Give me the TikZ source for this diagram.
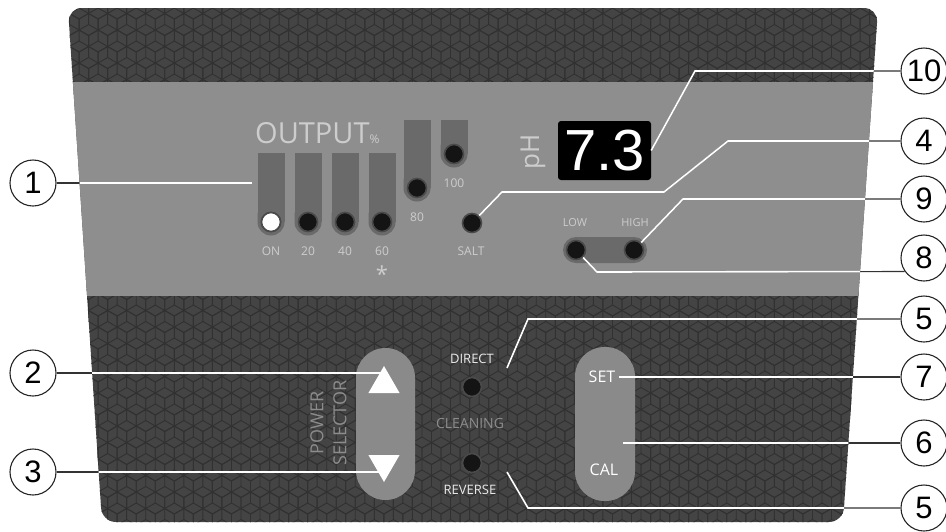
\documentclass[tikz,border=0pt]{standalone}
\usepackage{fontspec}
\setmainfont{Open Sans}
\newfontfamily\numfont{Liberation Sans}
\usetikzlibrary{shapes.geometric}
\definecolor{panelgray}{HTML}{444444}
\definecolor{hexgray}{HTML}{313131}
\definecolor{bandgray}{HTML}{8E8E8E}
\definecolor{bargray}{HTML}{6A6A6A}
\definecolor{pillgray}{HTML}{8A8A8A}
\definecolor{lbltext}{HTML}{CDCDCD}
\definecolor{dimtext}{HTML}{8C8C8C}
\definecolor{ledrim}{HTML}{4A4A4A}
\newcommand\calloutlines[1]{
\draw[#1] (c1) -- (p1);
\draw[#1] (c2) -- (c2 -| up);
\draw[#1] (c3) -- (c3 -| down);
\draw[#1] (c10) -- (695,71) -- (disp.east);
\draw[#1] (c4) -- (728,141) -- (664,192) -- (502,192) -- (salt);
\draw[#1] (c9) -- (683,199) -- (high);
\draw[#1] (low) -- (597,272) -- (c8.215);
\draw[#1] (c5a) -- (528,319) -- (p5a);
\draw[#1] (c5b) -- (528,508) -- (p5b);
\draw[#1] (c7) -- (set);
\draw[#1] (c6) -- (p6);
}
\begin{document}
\begin{tikzpicture}[x=1pt,y=-1pt,
  hexl/.style={draw=hexgray, line width=0.9pt},
  bar/.style={fill=bargray},
  pill/.style={fill=pillgray, rounded corners=29.5},
  led/.style={circle, fill=black!92, draw=ledrim, line width=1.6pt, minimum size=19, inner sep=0},
  lbl/.style={text=lbltext, font=\fontsize{12}{12}\selectfont},
  ctext/.style={text=white!92!black, font=\fontsize{13}{13}\selectfont},
  btn/.style={text=white, font=\fontsize{16}{16}\selectfont},
  tri/.style={regular polygon, regular polygon sides=3, fill=white, minimum size=36, inner sep=0},
  callout/.style={circle, draw=black!85, line width=1.1pt, fill=white, minimum size=46, inner sep=0, font=\numfont\fontsize{31}{31}\selectfont},
  leaderout/.style={draw=black!80, line width=1.1pt},
  leaderin/.style={draw=white, line width=1.6pt}]
\useasboundingbox (0,0) rectangle (946,531);
\fill[white] (0,0) rectangle (946,531);
\begin{scope}
\clip[rounded corners=14] (68,8) -- (878,8) -- (843,522) -- (102,522) -- cycle;
\fill[panelgray] (60,0) rectangle (890,531);
\foreach \j in {0,...,5,17,18,...,32}{
  \foreach \i in {0,...,45}{
    \draw[hexl] ({60+\i*19.05+mod(\j,2)*9.53},{8+\j*16.5}) +(30:11) -- +(90:11) -- +(150:11) -- +(210:11) -- +(270:11) -- +(330:11) -- cycle
      +(0,0) -- +(90:11) +(0,0) -- +(210:11) +(0,0) -- +(330:11);
  }
}
\fill[bandgray] (60,82) rectangle (890,296);
\end{scope}

\node[anchor=base west, inner sep=0, text=lbltext, font=\fontsize{29}{29}\selectfont] (out) at (255,143) {OUTPUT{\fontsize{12}{12}\selectfont\%}};
\foreach \n/\cx/\ty/\ly/\lbl in {a/271/153/222/ON, b/308/153/222/20, c/345/153/222/40, d/382/153/222/60, e/417/120/188/80, f/454/120/154/100}{
  \fill[bar] (\cx-13.5,\ty) rectangle (\cx+13.5,\ly);
  \fill[bar, rounded corners=13.5] (\cx-13.5,\ly-20) rectangle (\cx+13.5,\ly+13.5);
  \node[led] (led\n) at (\cx,\ly) {};
  \node[lbl] at (\cx,\ly+29) {\lbl};
}
\node[led, fill=white] at (leda) {};
\node[lbl, font=\fontsize{22}{22}\selectfont] at (382,274) {*};
\node[led] (salt) at (472,223) {};
\node[lbl] at (471,251) {SALT};

\node[rotate=90, text=lbltext, font=\fontsize{26}{26}\selectfont] at (533,152) {pH};
\node[fill=black, rounded corners=3, minimum width=93, minimum height=59, inner sep=0] (disp) at (604.5,150.5) {};
\node[text=white, font=\numfont\fontsize{58}{58}\selectfont] at (disp) {7.3};

\fill[bar, rounded corners=13] (563,237) rectangle (647,263);
\node[led] (low) at (576,250) {};
\node[led] (high) at (634,250) {};
\node[lbl, font=\fontsize{11}{11}\selectfont] at (575,223) {LOW};
\node[lbl, font=\fontsize{11}{11}\selectfont] at (635,223) {HIGH};

\fill[pill] (356,348) rectangle (415,500);
\node[tri] (up) at (384,384) {};
\node[tri, rotate=180] (down) at (384,464) {};
\node[rotate=90, align=center, text=dimtext, font=\fontsize{18}{23}\selectfont] at (328.5,423) {POWER\\SELECTOR};

\node[led] (dir) at (472,387) {};
\node[led] (rev) at (472,463) {};
\node[ctext] at (472,359) {DIRECT};
\node[text=dimtext, font=\fontsize{14}{14}\selectfont] at (470,423) {CLEANING};
\node[ctext] at (470,490) {REVERSE};

\fill[pill] (575,347) rectangle (635,501);
\node[btn] (set) at (602,377) {SET};
\node[btn] (cal) at (604,470) {CAL};

\coordinate (p1) at (252,183);
\coordinate (p5a) at (507,368);
\coordinate (p5b) at (507,472);
\coordinate (p6) at (623,443);
\node[callout] (c1) at (33,183) {1};
\node[callout] (c2) at (33,373) {2};
\node[callout] (c3) at (33,472) {3};
\node[callout] (c10) at (924,71) {10};
\node[callout] (c4) at (924,141) {4};
\node[callout] (c9) at (924,199) {9};
\node[callout] (c8) at (924,258) {8};
\node[callout] (c5a) at (924,319) {5};
\node[callout] (c7) at (924,377) {7};
\node[callout] (c6) at (924,443) {6};
\node[callout] (c5b) at (924,508) {5};

\calloutlines{leaderout}
\begin{scope}
\clip[rounded corners=14] (68,8) -- (878,8) -- (843,522) -- (102,522) -- cycle;
\calloutlines{leaderin}
\end{scope}
\end{tikzpicture}
\end{document}
